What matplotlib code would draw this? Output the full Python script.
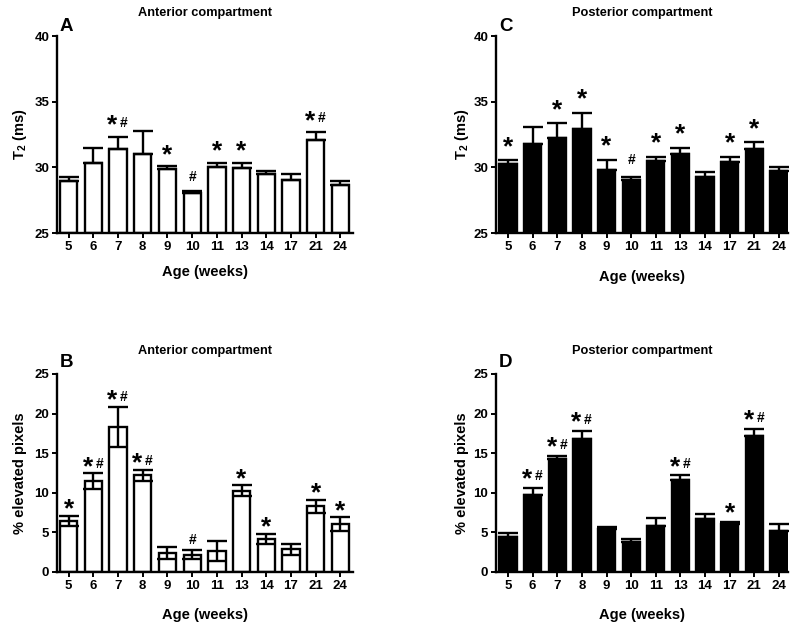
import numpy as np
import matplotlib
matplotlib.use("Agg")
import matplotlib.pyplot as plt

plt.rcParams['font.family'] = ['Liberation Sans', 'DejaVu Sans']
plt.rcParams['font.weight'] = 'bold'
plt.rcParams['mathtext.fontset'] = 'custom'
plt.rcParams['mathtext.rm'] = 'Liberation Sans:bold'
plt.rcParams['mathtext.bf'] = 'Liberation Sans:bold'

ages = ['5', '6', '7', '8', '9', '10', '11', '13', '14', '17', '21', '24']

# Panel A: T2 anterior
t2_ant = [28.98, 30.30, 31.37, 31.02, 29.85, 28.02, 30.00, 29.97, 29.52, 29.06, 32.11, 28.68]
t2_ant_sem = [0.31, 1.20, 0.96, 1.72, 0.25, 0.20, 0.36, 0.39, 0.23, 0.46, 0.55, 0.30]
t2_ant_sig = ['', '', '*#', '', '*', '#', '*', '*', '', '', '*#', '']

# Panel C: T2 posterior
t2_post = [30.28, 31.75, 32.26, 32.92, 29.82, 29.01, 30.51, 31.02, 29.29, 30.41, 31.42, 29.75]
t2_post_sem = [0.25, 1.32, 1.09, 1.22, 0.74, 0.25, 0.30, 0.43, 0.35, 0.38, 0.48, 0.28]
t2_post_sig = ['*', '', '*', '*', '*', '#', '*', '*', '', '*', '*', '']

# Panel B: % elevated pixels anterior
pix_ant = [6.46, 11.44, 18.33, 12.20, 2.36, 2.20, 2.62, 10.26, 4.18, 2.87, 8.28, 6.04]
pix_ant_sem = [0.60, 1.00, 2.50, 0.65, 0.77, 0.60, 1.27, 0.67, 0.60, 0.68, 0.80, 0.85]
pix_ant_sig = ['*', '*#', '*#', '*#', '', '#', '', '*', '*', '', '*', '*']

# Panel D: % elevated pixels posterior
pix_post = [4.43, 9.67, 14.23, 16.81, 5.41, 3.84, 5.87, 11.57, 6.63, 6.12, 17.23, 5.19]
pix_post_sem = [0.55, 0.97, 0.38, 0.97, 0.25, 0.38, 0.97, 0.63, 0.68, 0.17, 0.80, 0.81]
pix_post_sig = ['', '*#', '*#', '*#', '', '', '', '*#', '', '*', '*#', '']

W, H = 800, 633
fig = plt.figure(figsize=(8.0, 6.33), dpi=100)

STAR_FS = 19
HASH_FS = 10


def px_axes(left, top, right, bottom):
    return fig.add_axes([left / W, 1 - bottom / H, (right - left) / W, (bottom - top) / H])


def panel(ax, vals, sem, sig, ylim, yticks, ylabel, title, letter, filled,
          both_err, xlim, sig_px, ylab_x, xlab_y, title_y, letter_y):
    x = np.arange(len(ages))
    vals = np.asarray(vals)
    sem = np.asarray(sem)
    fc = 'black' if filled else 'white'
    lower = sem if both_err else np.zeros_like(sem)
    ax.errorbar(x, vals, yerr=[lower, sem], fmt='none', ecolor='black',
                elinewidth=1.7, capsize=7.0, capthick=1.7, zorder=3)
    ax.bar(x, vals - ylim[0], bottom=ylim[0], width=0.70, color=fc,
           edgecolor='black', linewidth=1.7, zorder=2)
    ax.set_xlim(*xlim)
    ax.set_ylim(*ylim)
    ax.set_xticks(x)
    ax.set_xticklabels(ages)
    ax.set_yticks(yticks)
    for s in ['top', 'right']:
        ax.spines[s].set_visible(False)
    for s in ['left', 'bottom']:
        ax.spines[s].set_linewidth(1.7)
    ax.tick_params(direction='out', length=3.5, width=1.4, labelsize=9.5, pad=2)
    for lab in ax.get_xticklabels() + ax.get_yticklabels():
        lab.set_fontweight('bold')
    ax.set_xlabel('Age (weeks)', fontsize=10.5, fontweight='bold', va='center')
    ax.xaxis.set_label_coords(0.5, xlab_y)
    ax.set_ylabel(ylabel, fontsize=10.5, fontweight='bold', va='center')
    ax.yaxis.set_label_coords(ylab_x, 0.5)
    ax.text(0.5, title_y, title, transform=ax.transAxes, ha='center', va='center',
            fontsize=9.2, fontweight='bold')
    ax.text(0.01, letter_y, letter, transform=ax.transAxes, ha='left', va='center',
            fontsize=13.5, fontweight='bold')
    star_em = STAR_FS * 100 / 72
    hash_em = HASH_FS * 100 / 72
    star_dy = sig_px - 0.17 * star_em + 2
    hash_dy = sig_px - 0.10 * hash_em + 2
    for xi, v, e, s in zip(x, vals, sem, sig):
        top = v + e
        dx_star, dx_hash = (0, 0) if len(s) < 2 else (-5.5, 6)
        if '*' in s:
            ax.annotate('*', (xi, top), xytext=(dx_star, star_dy), textcoords='offset pixels',
                        ha='center', va='center', fontsize=STAR_FS, fontweight='bold')
        if '#' in s:
            ax.annotate('#', (xi, top), xytext=(dx_hash, hash_dy), textcoords='offset pixels',
                        ha='center', va='center', fontsize=HASH_FS, fontweight='bold')


axA = px_axes(57, 36, 353, 233)
panel(axA, t2_ant, t2_ant_sem, t2_ant_sig, (25, 40), [25, 30, 35, 40],
      r'T$_{\mathbf{2}}$ (ms)', 'Anterior compartment', 'A', False, False,
      (-0.47, 11.51), 13.5, -0.125, -0.198, 1.117, 1.05)

axC = px_axes(496, 36, 788, 233)
panel(axC, t2_post, t2_post_sem, t2_post_sig, (25, 40), [25, 30, 35, 40],
      r'T$_{\mathbf{2}}$ (ms)', 'Posterior compartment', 'C', True, False,
      (-0.49, 11.37), 16, -0.116, -0.222, 1.117, 1.05)

axB = px_axes(57, 374, 353, 572)
panel(axB, pix_ant, pix_ant_sem, pix_ant_sig, (0, 25), [0, 5, 10, 15, 20, 25],
      '% elevated pixels', 'Anterior compartment', 'B', False, True,
      (-0.47, 11.51), 9, -0.125, -0.217, 1.115, 1.058)

axD = px_axes(496, 374, 788, 572)
panel(axD, pix_post, pix_post_sem, pix_post_sig, (0, 25), [0, 5, 10, 15, 20, 25],
      '% elevated pixels', 'Posterior compartment', 'D', True, False,
      (-0.49, 11.37), 11, -0.116, -0.217, 1.115, 1.058)

fig.savefig('out.png', dpi=100)
